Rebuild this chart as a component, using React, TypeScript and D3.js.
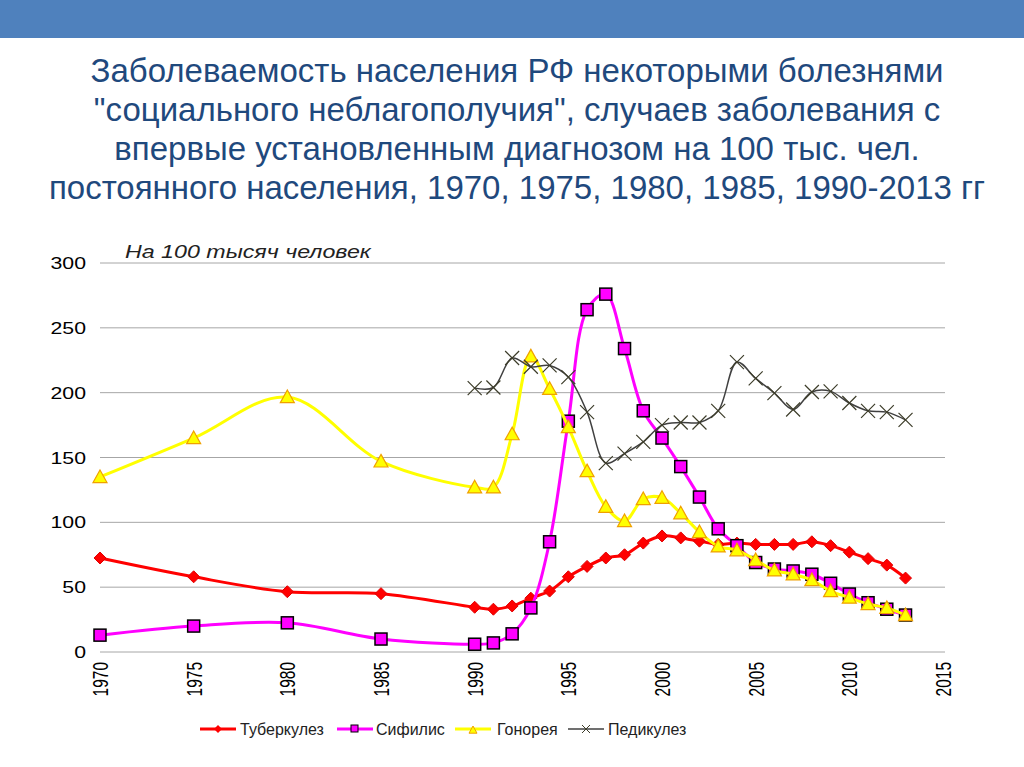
import React from "react";
import * as d3 from "d3";

const titleLines = [
  "Заболеваемость населения РФ некоторыми болезнями",
  "\"социального неблагополучия\", случаев заболевания с",
  "впервые установленным диагнозом на 100 тыс. чел.",
  "постоянного населения, 1970, 1975, 1980, 1985, 1990-2013 гг",
];
const unitLabel = "На 100 тысяч человек";

const years = [1970, 1975, 1980, 1985, 1990, 1991, 1992, 1993, 1994, 1995, 1996, 1997, 1998, 1999, 2000, 2001, 2002, 2003, 2004, 2005, 2006, 2007, 2008, 2009, 2010, 2011, 2012, 2013];
const tuberculosis = [72.5, 58, 46.5, 45, 34.5, 33, 35.5, 41.5, 47, 58, 66, 72.5, 75, 84, 89.5, 88, 85.5, 83, 84, 83, 83, 83, 85, 82, 77, 72, 67, 57];
const syphilis = [13, 20, 22.5, 10, 6, 7, 14, 34, 85, 178, 264, 276, 234, 186, 165, 143, 119.5, 95, 82, 69, 64, 62.5, 60, 53, 44.7, 38, 33, 28.5];
const gonorrhea = [135, 165, 196.6, 147, 127, 127, 168, 228, 203, 173.5, 139.5, 112, 101, 118, 119, 107, 92.5, 81.5, 78.5, 71, 63, 60, 55.5, 47, 42, 37, 34, 28.5];
const pedYears = [1990, 1991, 1992, 1993, 1994, 1995, 1996, 1997, 1998, 1999, 2000, 2001, 2002, 2003, 2004, 2005, 2006, 2007, 2008, 2009, 2010, 2011, 2012, 2013];
const pediculosis = [203.5, 204, 226.7, 220, 221, 212, 185, 145.7, 153, 162, 175, 177, 177, 186, 223.6, 211, 199.7, 187, 200.5, 201, 192, 186, 185, 179];

const yTicks = [0, 50, 100, 150, 200, 250, 300];
const xTicks = [1970, 1975, 1980, 1985, 1990, 1995, 2000, 2005, 2010, 2015];
const seriesNames = ["Туберкулез", "Сифилис", "Гонорея", "Педикулез"];

const SANS = "'Liberation Sans', Arial, sans-serif";

export default function App() {
  const x = d3.scaleLinear().domain([1970, 2015]).range([100, 943]);
  const y = d3.scaleLinear().domain([0, 300]).range([652, 263]);
  const line = d3
    .line<[number, number]>()
    .x((d) => x(d[0]))
    .y((d) => y(d[1]))
    .curve(d3.curveCatmullRom.alpha(0.5));

  const tb = years.map((yr, i) => [yr, tuberculosis[i]] as [number, number]);
  const sy = years.map((yr, i) => [yr, syphilis[i]] as [number, number]);
  const go = years.map((yr, i) => [yr, gonorrhea[i]] as [number, number]);
  const pe = pedYears.map((yr, i) => [yr, pediculosis[i]] as [number, number]);

  const diamond = (cx: number, cy: number, r: number) =>
    `M${cx},${cy - r}L${cx + r},${cy}L${cx},${cy + r}L${cx - r},${cy}Z`;
  const tri = (cx: number, cy: number, r: number) =>
    `M${cx},${cy - r}L${cx + r},${cy + r * 0.8}L${cx - r},${cy + r * 0.8}Z`;
  const cross = (cx: number, cy: number, r: number) =>
    `M${cx - r},${cy - r}L${cx + r},${cy + r}M${cx - r},${cy + r}L${cx + r},${cy - r}`;

  const legendItems = [
    { x0: 200, tx: 240, color: "#ff0000", name: seriesNames[0], kind: "d" },
    { x0: 337, tx: 376, color: "#ff00ff", name: seriesNames[1], kind: "s" },
    { x0: 455, tx: 497, color: "#ffff00", name: seriesNames[2], kind: "t" },
    { x0: 568, tx: 608, color: "#404040", name: seriesNames[3], kind: "x" },
  ];

  return (
    <svg width={1024} height={767} style={{ position: "absolute", left: 0, top: 0, background: "#fff" }}>
      <rect x={0} y={0} width={1024} height={38} fill="#4f81bd" />
      {titleLines.map((t, i) => (
        <text
          key={i}
          x={517}
          y={82 + i * 39}
          textAnchor="middle"
          fill="#1f497d"
          style={{ fontFamily: SANS, fontSize: 33 }}
        >
          {t}
        </text>
      ))}
      <text
        transform="translate(125,258) scale(1.29,1)"
        fill="#222"
        fontStyle="italic"
        style={{ fontFamily: SANS, fontSize: 18 }}
      >
        {unitLabel}
      </text>
      {yTicks.map((t) => (
        <g key={t}>
          <line x1={100} x2={945} y1={y(t)} y2={y(t)} stroke="#a6a6a6" strokeWidth={1} />
          <text
            transform={`translate(86,${y(t) + 6}) scale(1.33,1)`}
            textAnchor="end"
            fill="#000"
            style={{ fontFamily: SANS, fontSize: 16 }}
          >
            {t}
          </text>
        </g>
      ))}
      {xTicks.map((t) => (
        <text
          key={t}
          transform={`translate(${x(t) + 8},662) rotate(-90) scale(1,1.4)`}
          textAnchor="end"
          fill="#000"
          style={{ fontFamily: SANS, fontSize: 15.5 }}
        >
          {t}
        </text>
      ))}

      <path d={line(tb) || ""} fill="none" stroke="#ff0000" strokeWidth={3} />
      {tb.map((d, i) => (
        <path key={i} d={diamond(x(d[0]), y(d[1]), 6)} fill="#ff0000" stroke="#e00000" strokeWidth={1} />
      ))}
      <path d={line(sy) || ""} fill="none" stroke="#ff00ff" strokeWidth={3} />
      {sy.map((d, i) => (
        <rect key={i} x={x(d[0]) - 6} y={y(d[1]) - 6} width={12} height={12} fill="#ff00ff" stroke="#000" strokeWidth={1.5} />
      ))}
      <path d={line(go) || ""} fill="none" stroke="#ffff00" strokeWidth={3} />
      {go.map((d, i) => (
        <path key={i} d={tri(x(d[0]), y(d[1]), 7)} fill="#ffff00" stroke="#f0a000" strokeWidth={1.2} />
      ))}
      <path d={line(pe) || ""} fill="none" stroke="#404040" strokeWidth={1.5} />
      {pe.map((d, i) => (
        <path key={i} d={cross(x(d[0]), y(d[1]), 7)} fill="none" stroke="#3d3d2a" strokeWidth={1.2} />
      ))}

      {legendItems.map((it, i) => (
        <g key={i}>
          <line x1={it.x0} x2={it.x0 + 36} y1={729} y2={729} stroke={it.color} strokeWidth={it.kind === "x" ? 1.5 : 3} />
          {it.kind === "d" && <path d={diamond(it.x0 + 18, 729, 4)} fill="#ff0000" />}
          {it.kind === "s" && <rect x={it.x0 + 14} y={725} width={7} height={7} fill="#ff00ff" stroke="#000" strokeWidth={1} />}
          {it.kind === "t" && <path d={tri(it.x0 + 18, 730, 4)} fill="#ffff00" stroke="#f0a000" strokeWidth={1} />}
          {it.kind === "x" && <path d={cross(it.x0 + 18, 729, 4)} fill="none" stroke="#3d3d2a" strokeWidth={1} />}
          <text x={it.tx} y={735} fill="#222" style={{ fontFamily: SANS, fontSize: 16 }}>
            {it.name}
          </text>
        </g>
      ))}
    </svg>
  );
}
